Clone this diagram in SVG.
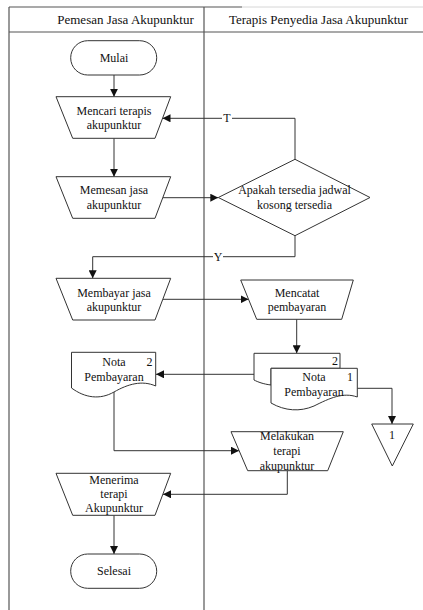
<svg xmlns="http://www.w3.org/2000/svg" width="423" height="610" viewBox="0 0 423 610">
<defs>
<marker id="arr" viewBox="0 0 8 8" refX="8" refY="4" markerWidth="8" markerHeight="8" markerUnits="userSpaceOnUse" orient="auto">
<path d="M0,0 L8,4 L0,8 Z" fill="#111"/>
</marker>
<style>
.shape{fill:#fff;stroke:#333;stroke-width:1}
.lane{fill:none;stroke:#555;stroke-width:1.2}
.conn{fill:none;stroke:#333;stroke-width:1;marker-end:url(#arr)}
text{font-family:'Liberation Serif','DejaVu Serif',serif;font-size:12px;fill:#111;text-anchor:middle}
.hdr{font-size:13px}
</style>
</defs>
<rect width="423" height="610" fill="#fff"/>
<g font-family="Liberation Serif, serif">
<g id="lanes">
<line class="lane" x1="9" y1="7" x2="242" y2="7"/>
<line x1="242" y1="7" x2="423" y2="7" stroke="#ccc" stroke-width="0.8"/>
<line class="lane" x1="9" y1="7" x2="9" y2="610"/>
<line class="lane" x1="204" y1="7" x2="204" y2="610"/>
<line class="lane" x1="9" y1="32" x2="423" y2="32"/>
<text class="hdr" x="125.5" y="23.5">Pemesan Jasa Akupunktur</text>
<text class="hdr" x="318.5" y="23.5">Terapis Penyedia Jasa Akupunktur</text>
</g>
<g id="connectors">
<line class="conn" x1="114" y1="75" x2="114" y2="96.7"/>
<line class="conn" x1="114" y1="138.3" x2="114" y2="176.7"/>
<line class="conn" x1="163" y1="197.7" x2="218.3" y2="197.7"/>
<polyline class="conn" points="295,159.3 295,118.3 162.5,118.3"/>
<polyline class="conn" points="295,235.7 295,256.7 92.7,256.7 92.7,278.3"/>
<line class="conn" x1="163" y1="299.3" x2="248.5" y2="299.3"/>
<line class="conn" x1="296.7" y1="319.3" x2="296.7" y2="353.3"/>
<line class="conn" x1="254" y1="374.3" x2="156" y2="374.3"/>
<polyline class="conn" points="114,392 114,450.7 239,450.7"/>
<polyline class="conn" points="357.3,388.3 392,388.3 392,424"/>
<polyline class="conn" points="287.3,470.7 287.3,494.3 163,494.3"/>
<line class="conn" x1="114" y1="515.3" x2="114" y2="554"/>
<rect x="222" y="112" width="10" height="11" fill="#fff"/>
<text x="227" y="122">T</text>
<rect x="213" y="251" width="10" height="11" fill="#fff"/>
<text x="218" y="261">Y</text>
</g>
<g id="mulai">
<rect class="shape" x="70.7" y="40.7" width="86" height="34.3" rx="17"/>
<text x="114" y="62">Mulai</text>
</g>
<g id="mencari">
<polygon class="shape" points="56,96.7 170.7,96.7 155,138.3 72.7,138.3"/>
<text x="114" y="115">Mencari terapis</text>
<text x="114" y="129">akupunktur</text>
</g>
<g id="memesan">
<polygon class="shape" points="56,176.7 170.7,176.7 155,218.3 72.7,218.3"/>
<text x="114" y="194">Memesan jasa</text>
<text x="114" y="208.5">akupunktur</text>
</g>
<g id="apakah">
<polygon class="shape" points="295,159.3 370,197.5 295,235.7 218.3,197.5"/>
<text x="294.5" y="194">Apakah tersedia jadwal</text>
<text x="294.5" y="209">kosong tersedia</text>
</g>
<g id="membayar">
<polygon class="shape" points="56,278.3 170.7,278.3 155,320 72.7,320"/>
<text x="114" y="297">Membayar jasa</text>
<text x="114" y="311">akupunktur</text>
</g>
<g id="mencatat">
<polygon class="shape" points="240.7,280 353.3,280 341.7,319.3 256.7,319.3"/>
<text x="297" y="297">Mencatat</text>
<text x="297" y="311">pembayaran</text>
</g>
<g id="nota2-left">
<path class="shape" d="M71.5,352.3 H155.7 V386 C142,380 128,384 114,392 C100,400 85,398 71.5,388 Z"/>
<text x="114" y="366">Nota</text>
<text x="149.5" y="366">2</text>
<text x="114" y="381">Pembayaran</text>
</g>
<g id="nota-stack">
<path class="shape" d="M254,353.3 H340 V368.3 H271 V385 C263,384 258,382 254,380 Z"/>
<text x="335" y="365">2</text>
<path class="shape" d="M271,368.3 H357.3 V397 C343,392 330,398 314,406 C300,412 285,411 271,403 Z"/>
<text x="314" y="381">Nota</text>
<text x="350" y="381">1</text>
<text x="314" y="396">Pembayaran</text>
</g>
<g id="connector-1">
<polygon class="shape" points="371.7,424 413.3,424 392.3,466"/>
<text x="392" y="439">1</text>
</g>
<g id="melakukan">
<polygon class="shape" points="231,431.7 343.3,431.7 327.7,470.7 247.7,470.7"/>
<text x="287" y="440">Melakukan</text>
<text x="287" y="455">terapi</text>
<text x="287" y="469.5">akupunktur</text>
</g>
<g id="menerima">
<polygon class="shape" points="56,473.3 170.7,473.3 155,515.3 72.7,515.3"/>
<text x="114" y="484">Menerima</text>
<text x="114" y="498">terapi</text>
<text x="114" y="512">Akupunktur</text>
</g>
<g id="selesai">
<rect class="shape" x="70.7" y="554" width="86" height="34.3" rx="17"/>
<text x="114" y="575">Selesai</text>
</g>
</g>
</svg>
